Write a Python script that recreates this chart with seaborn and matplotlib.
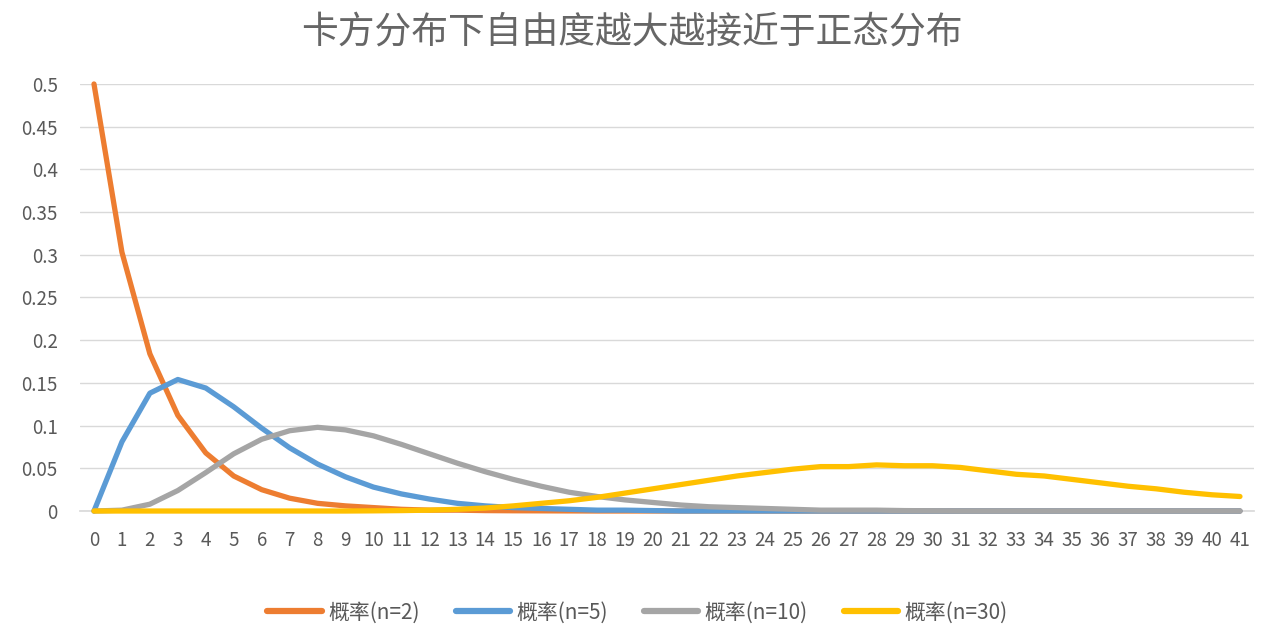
import numpy as np
import pandas as pd
import matplotlib
matplotlib.use("Agg")
import matplotlib.pyplot as plt
import seaborn as sns

# data
x = list(range(42))
n2 = [0.5, 0.303, 0.184, 0.112, 0.068, 0.041, 0.025, 0.015, 0.009, 0.006,
      0.004, 0.002, 0.001, 0.001, 0.0005, 0.0003, 0.0002, 0.0001, 0, 0,
      0, 0, 0, 0, 0, 0, 0, 0, 0, 0, 0, 0, 0, 0, 0, 0, 0, 0, 0, 0, 0, 0]
n5 = [0, 0.081, 0.138, 0.154, 0.144, 0.122, 0.097, 0.074, 0.055, 0.040,
      0.028, 0.020, 0.014, 0.009, 0.006, 0.004, 0.003, 0.002, 0.001, 0.001,
      0.0005, 0, 0, 0, 0, 0, 0, 0, 0, 0, 0, 0, 0, 0, 0, 0, 0, 0, 0, 0, 0, 0]
n10 = [0, 0.001, 0.008, 0.024, 0.045, 0.067, 0.084, 0.094, 0.098, 0.095,
       0.088, 0.078, 0.067, 0.056, 0.046, 0.037, 0.029, 0.022, 0.017, 0.013,
       0.010, 0.007, 0.005, 0.004, 0.003, 0.002, 0.001, 0.001, 0.001, 0.0005,
       0.0003, 0, 0, 0, 0, 0, 0, 0, 0, 0, 0, 0]
n30 = [0, 0, 0, 0, 0, 0, 0, 0, 0, 0,
       0.0002, 0.0005, 0.001, 0.002, 0.0035, 0.006, 0.009, 0.012, 0.016, 0.021,
       0.026, 0.031, 0.036, 0.041, 0.045, 0.049, 0.052, 0.052, 0.054, 0.053,
       0.053, 0.051, 0.047, 0.043, 0.041, 0.037, 0.033, 0.029, 0.026, 0.022,
       0.019, 0.017]
series = ["概率(n=2)", "概率(n=5)", "概率(n=10)", "概率(n=30)"]
colors = ["#ED7D31", "#5B9BD5", "#A5A5A5", "#FFC000"]

df = pd.DataFrame({"x": x * 4,
                   "p": n2 + n5 + n10 + n30,
                   "series": np.repeat(series, len(x))})

sns.set_theme(style="white")
plt.rcParams['font.family'] = ['Noto Sans CJK SC', 'DejaVu Sans']

fig = plt.figure(figsize=(12.72, 6.44), dpi=100)
ax = fig.add_axes([0.0629, 0.2065, 0.9229, 0.6631])

sns.lineplot(data=df, x="x", y="p", hue="series", hue_order=series,
             palette=dict(zip(series, colors)), linewidth=3.8, ax=ax,
             solid_capstyle="round")
for line in ax.get_lines():
    line.set_clip_on(False)
    line.set_zorder(3)

ax.set_xlim(-0.5, 41.5)
ax.set_ylim(0, 0.5)
ax.set_xticks(x)
ax.set_xticklabels([str(i) for i in x])
yt = [0, 0.05, 0.1, 0.15, 0.2, 0.25, 0.3, 0.35, 0.4, 0.45, 0.5]
ax.set_yticks(yt)
ax.set_yticklabels(["0", "0.05", "0.1", "0.15", "0.2", "0.25", "0.3", "0.35",
                    "0.4", "0.45", "0.5"])
ax.tick_params(axis="both", length=0, labelsize=13.5, labelcolor="#595959")
ax.tick_params(axis="x", pad=14)
ax.tick_params(axis="y", pad=16)
ax.yaxis.grid(True, color="#D9D9D9", linewidth=1)
ax.set_axisbelow(True)
for s in ["top", "right", "left"]:
    ax.spines[s].set_visible(False)
ax.spines["bottom"].set_color("#D9D9D9")
ax.spines["bottom"].set_zorder(0.5)
ax.set_xlabel("")
ax.set_ylabel("")

fig.text(0.497, 0.95, "卡方分布下自由度越大越接近于正态分布", fontsize=26.5,
         color="#666666", ha="center", va="center")

ax.legend(loc="center", bbox_to_anchor=(0.475, -0.238), ncol=4,
          frameon=False, fontsize=15, handlelength=2.6, handletextpad=0.3,
          columnspacing=1.75, labelcolor="#595959")
for line in ax.get_legend().get_lines():
    line.set_linewidth(4.5)

fig.savefig("out.png", dpi=100)
